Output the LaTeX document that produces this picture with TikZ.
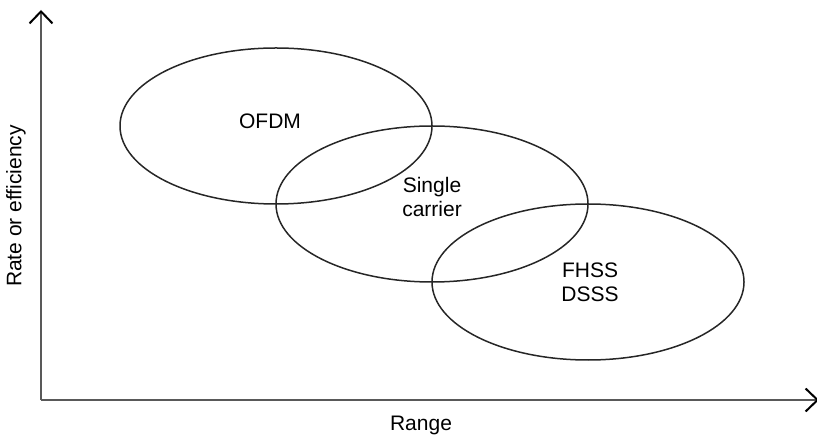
\documentclass[tikz,border=0pt]{standalone}
\usepackage{fontspec}
\setmainfont{Liberation Sans}
\usepackage{tikz}
\usetikzlibrary{arrows.meta}
\tikzset{lbl/.style={font=\fontsize{10.5}{12}\selectfont,align=center,inner sep=0pt}}

\begin{document}
\begin{tikzpicture}[x=.5pt,y=-.5pt,
rgn/.style={draw=black!85,line width=.75pt},
axis/.style={draw=black!65,line width=.7pt,-{Straight Barb[length=6pt,width=11.5pt,line width=1pt,color=black]}}]
\useasboundingbox (0,0) rectangle (817,437);
% axes
\coordinate (o) at (41,400);\coordinate (ytop) at (41,10);\coordinate (xend) at (819,400);
\draw[axis] (o)--(ytop);\draw[axis] (o)--(xend);
\node[lbl,rotate=90] (ylab) at (16,206) {Rate or efficiency};
\node[lbl] (xlab) at (421,425) {Range};
% overlapping regions
\draw[rgn] (276,126) ellipse [x radius=156,y radius=78];
\draw[rgn] (432,204) ellipse [x radius=156,y radius=78];
\draw[rgn] (588,282) ellipse [x radius=156,y radius=78];
\node[lbl] (ofdm) at (270,121) {OFDM};
\node[lbl] (sc) at (432,197) {Single\\carrier};
\node[lbl] (ss) at (590,282) {FHSS\\DSSS};
\end{tikzpicture}
\end{document}
